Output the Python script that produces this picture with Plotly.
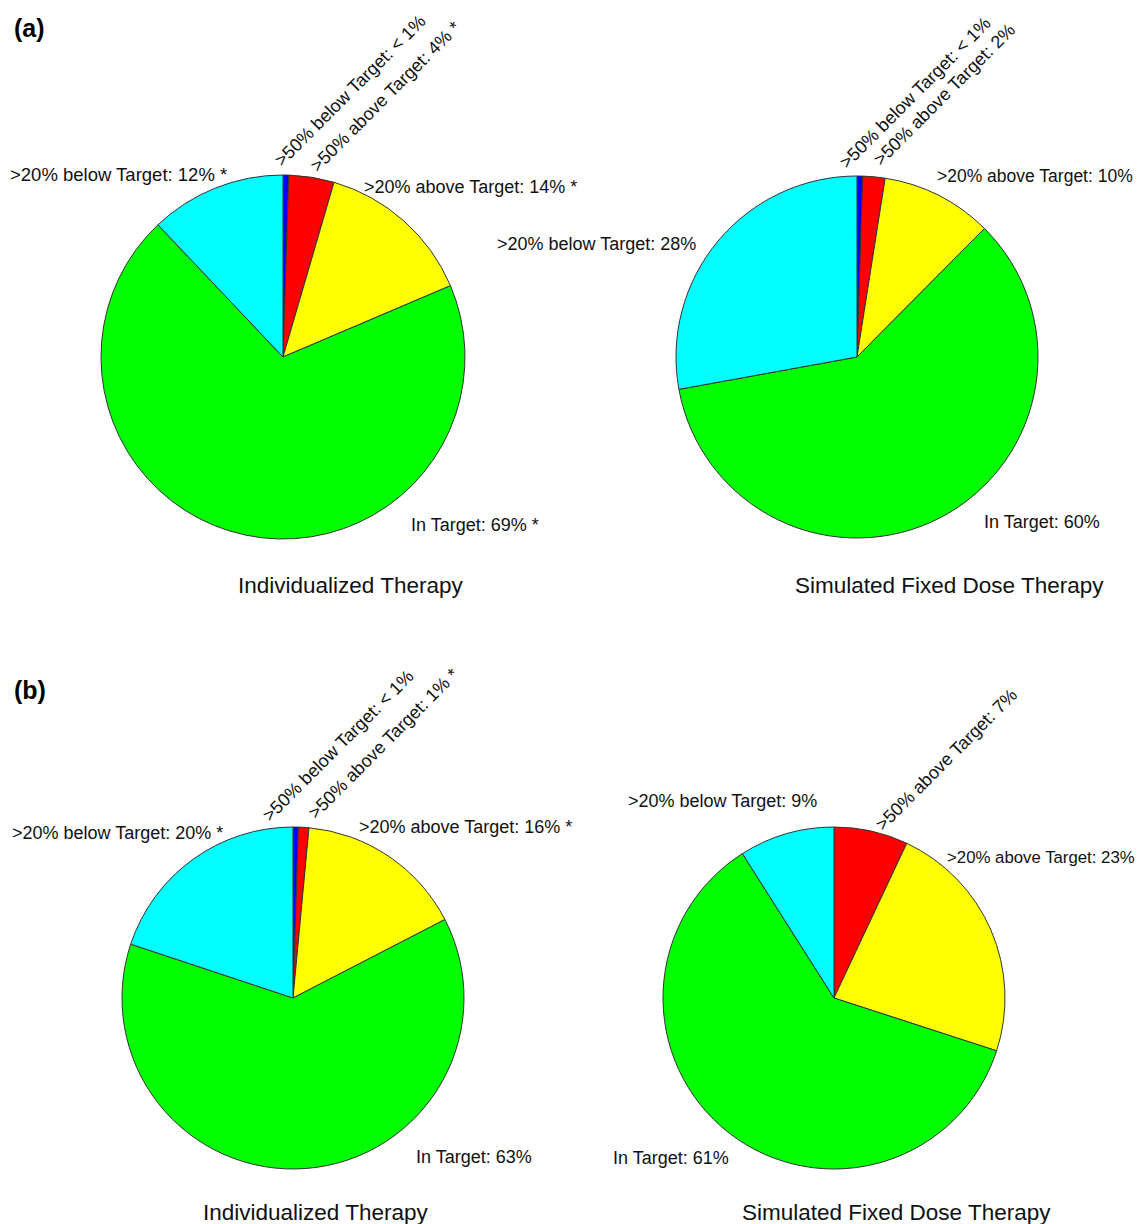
import plotly.graph_objects as go

W, H = 1146, 1224
OFF = 8                      # page body margin in the browser
FW, FH = W, H                # figure size (overflow beyond viewport is cropped)

# Data (percent), clockwise from 12 o'clock
categories = [">50% below Target", ">50% above Target", ">20% above Target", "In Target", ">20% below Target"]
colors = ["#0000FF", "#FF0000", "#FFFF00", "#00FF00", "#00FFFF"]
vals_a_ind = [0.5, 4, 14, 69, 12]
vals_a_fix = [0.5, 2, 10, 60, 28]
vals_b_ind = [0.5, 1, 16, 63, 20]
vals_b_fix = [0, 7, 23, 61, 9]

titles = ["Individualized Therapy", "Simulated Fixed Dose Therapy",
          "Individualized Therapy", "Simulated Fixed Dose Therapy"]

def px(x):
    return (x - OFF) / FW

def py(y):
    return 1 - (y - OFF) / FH

# pie geometry in pixels: (cx, cy, r)
geoms = [(283, 357, 182), (857, 357, 181), (293, 998, 171), (834, 998, 171)]
all_vals = [vals_a_ind, vals_a_fix, vals_b_ind, vals_b_fix]

fig = go.Figure()
for vals, (cx, cy, r) in zip(all_vals, geoms):
    fig.add_trace(go.Pie(
        labels=categories, values=vals, sort=False, direction="clockwise",
        rotation=0, textinfo="none", hoverinfo="label+percent",
        marker=dict(colors=colors, line=dict(color="#333333", width=1)),
        domain=dict(x=[px(cx - r), px(cx + r)], y=[py(cy + r), py(cy - r)]),
        showlegend=False,
    ))

FONT = "Liberation Sans, Arial, sans-serif"
LS = 18
ann = []

def label(text, x, y, xanchor="left", angle=0, size=LS):
    ann.append(dict(text=text, x=px(x), y=py(y), xref="paper", yref="paper",
                    xanchor=xanchor, yanchor="middle", textangle=angle,
                    showarrow=False, font=dict(family=FONT, size=size, color="#111111")))

# Pie (a) individualized
label(">20% below Target: 12% *", 8, 175, "left", 0, 18.5)
label(">20% above Target: 14% *", 362, 187, "left")
label("In Target: 69% *", 409, 525, "left")
label(">50% below Target: < 1%", 350, 91, "center", -45)
label(">50% above Target: 4% *", 385, 97, "center", -45)

# Pie (a) fixed
label(">20% below Target: 28%", 698, 244, "right")
label(">20% above Target: 10%", 1135, 176, "right", 0, 17.5)
label("In Target: 60%", 982, 522, "left")
label(">50% below Target: < 1%", 915, 93, "center", -45)
label(">50% above Target: 2%", 944, 95, "center", -45)

# Pie (b) individualized
label(">20% below Target: 20% *", 10, 833, "left")
label(">20% above Target: 16% *", 357, 827, "left")
label("In Target: 63%", 414, 1157, "left")
label(">50% below Target: < 1%", 338, 746, "center", -45)
label(">50% above Target: 1% *", 383, 744, "center", -45)

# Pie (b) fixed
label(">20% below Target: 9%", 626, 801, "left")
label(">20% above Target: 23%", 1137, 857, "right", 0, 16.8)
label("In Target: 61%", 731, 1158, "right")
label(">50% above Target: 7%", 946, 760, "center", -45)

# Titles
title_pos = [(351, 585), (949, 585), (315, 1212), (896, 1212)]
for t, (x, y) in zip(titles, title_pos):
    label(t, x, y, "center", 0, 22.5)

# Panel labels
for t, y in [("(a)", 28), ("(b)", 690)]:
    ann.append(dict(text="<b>" + t + "</b>", x=px(12), y=py(y), xref="paper", yref="paper",
                    xanchor="left", yanchor="middle", showarrow=False,
                    font=dict(family=FONT, size=25, color="#000000")))

fig.update_layout(
    width=FW, height=FH, margin=dict(l=0, r=0, t=0, b=0),
    paper_bgcolor="white", plot_bgcolor="white",
    annotations=ann,
)

fig.write_html("out.html")
